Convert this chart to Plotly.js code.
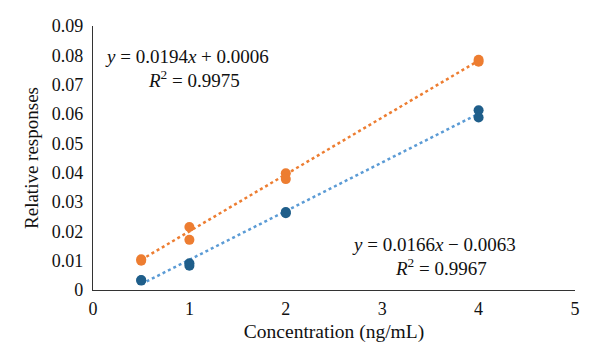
<!DOCTYPE html>
<html>
<head>
<meta charset="utf-8">
<script src="https://cdn.plot.ly/plotly-3.0.1.min.js"></script>
<style>
  html, body { margin: 0; padding: 0; background: #fff; }
  #chart { width: 600px; height: 363px; }
</style>
</head>
<body>
<div id="chart"></div>
<script>
// Calibration points (replicate measurements per concentration)
const concOrange = [0.5, 0.5, 1, 1, 2, 2, 4, 4];
const respOrange = [0.0105, 0.0100, 0.0215, 0.0171, 0.0398, 0.0378, 0.0785, 0.0778];
const concBlue = [0.5, 0.5, 1, 1, 2, 2, 4, 4];
const respBlue = [0.0034, 0.0032, 0.0091, 0.0083, 0.0266, 0.0262, 0.0613, 0.0588];

// Linear fits shown on the chart
const fitOrange = { slope: 0.0194, intercept: 0.0006, r2: 0.9975 };
const fitBlue = { slope: 0.0166, intercept: -0.0063, r2: 0.9967 };
const fitRange = [0.5, 4];

const xTicks = [0, 1, 2, 3, 4, 5];
const yTicks = [0, 0.01, 0.02, 0.03, 0.04, 0.05, 0.06, 0.07, 0.08, 0.09];
const yTickText = ['0', '0.01', '0.02', '0.03', '0.04', '0.05', '0.06', '0.07', '0.08', '0.09'];

const orange = '#ED7D31';
const blueLine = '#5B9BD5';
const blueMarker = '#1F5E8A';
const serif = '"Liberation Serif", "DejaVu Serif", serif';

function fitLine(fit) {
  return fitRange.map(x => fit.slope * x + fit.intercept);
}

const traces = [
  {
    x: fitRange, y: fitLine(fitOrange), mode: 'lines', type: 'scatter',
    line: { color: orange, width: 2.5, dash: 'dot' }, hoverinfo: 'skip'
  },
  {
    x: fitRange, y: fitLine(fitBlue), mode: 'lines', type: 'scatter',
    line: { color: blueLine, width: 2.5, dash: 'dot' }, hoverinfo: 'skip'
  },
  {
    x: concOrange, y: respOrange, mode: 'markers', type: 'scatter',
    marker: { color: orange, size: 10 }
  },
  {
    x: concBlue, y: respBlue, mode: 'markers', type: 'scatter',
    marker: { color: blueMarker, size: 10 }
  }
];

function fmtSigned(v) {
  return (v < 0 ? ' \u2212 ' : ' + ') + Math.abs(v).toFixed(4);
}

const layout = {
  width: 600, height: 363,
  margin: { l: 93, r: 25, t: 26, b: 73 },
  paper_bgcolor: '#fff', plot_bgcolor: '#fff',
  showlegend: false,
  font: { family: serif, size: 18, color: '#111' },
  xaxis: {
    range: [0, 5], tickvals: xTicks, ticktext: xTicks.map(String),
    showgrid: false, zeroline: false, showline: true, linecolor: '#333', linewidth: 1.2,
    ticks: '', ticklen: 0, tickfont: { size: 18 }, ticklabelstandoff: 2,
    title: { text: 'Concentration (ng/mL)', font: { size: 19.5 }, standoff: 6 }
  },
  yaxis: {
    range: [0, 0.09], tickvals: yTicks, ticktext: yTickText,
    showgrid: false, zeroline: false, showline: true, linecolor: '#333', linewidth: 1.2,
    ticks: '', ticklen: 0, tickfont: { size: 18 }, ticklabelstandoff: 5,
    title: { text: 'Relative responses', font: { size: 19 }, standoff: 8 }
  },
  annotations: [
    {
      xref: 'paper', yref: 'paper', x: 0.196, y: 0.883, xanchor: 'center', yanchor: 'middle',
      text: '<i>y</i> = ' + fitOrange.slope.toFixed(4) + '<i>x</i>' + fmtSigned(fitOrange.intercept),
      showarrow: false, font: { size: 19, family: serif }
    },
    {
      xref: 'paper', yref: 'paper', x: 0.21, y: 0.8, xanchor: 'center', yanchor: 'middle',
      text: '<i>R</i><sup>2</sup> = ' + fitOrange.r2.toFixed(4),
      showarrow: false, font: { size: 19, family: serif }
    },
    {
      xref: 'paper', yref: 'paper', x: 0.708, y: 0.172, xanchor: 'center', yanchor: 'middle',
      text: '<i>y</i> = ' + fitBlue.slope.toFixed(4) + '<i>x</i>' + fmtSigned(fitBlue.intercept),
      showarrow: false, font: { size: 19, family: serif }
    },
    {
      xref: 'paper', yref: 'paper', x: 0.722, y: 0.087, xanchor: 'center', yanchor: 'middle',
      text: '<i>R</i><sup>2</sup> = ' + fitBlue.r2.toFixed(4),
      showarrow: false, font: { size: 19, family: serif }
    }
  ]
};

Plotly.newPlot('chart', traces, layout, { displayModeBar: false, staticPlot: true });
</script>
</body>
</html>
